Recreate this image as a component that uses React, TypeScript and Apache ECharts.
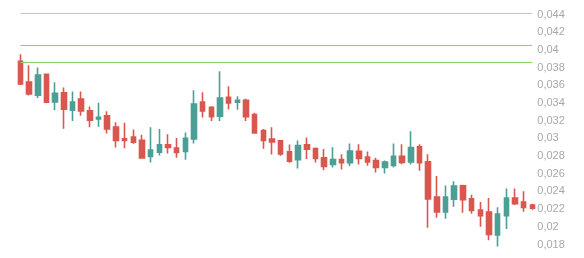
import React, { useEffect, useRef } from "react";
import * as echarts from "echarts";

const categories = ["1","2","3","4","5","6","7","8","9","10","11","12","13","14","15","16","17","18","19","20","21","22","23","24","25","26","27","28","29","30","31","32","33","34","35","36","37","38","39","40","41","42","43","44","45","46","47","48","49","50","51","52","53","54","55","56","57","58","59","60"];

const opens = [0.03861,0.03624,0.03477,0.03714,0.03401,0.03503,0.03307,0.03432,0.03299,0.03209,0.03243,0.03115,0.02983,0.03002,0.02968,0.02784,0.02833,0.02915,0.02878,0.02841,0.02983,0.03398,0.03341,0.03240,0.03454,0.03398,0.03420,0.03259,0.03078,0.02980,0.02960,0.02836,0.02746,0.02915,0.02874,0.02768,0.02694,0.02750,0.02712,0.02841,0.02776,0.02739,0.02660,0.02682,0.02787,0.02723,0.02893,0.02723,0.02324,0.02158,0.02302,0.02452,0.02305,0.02177,0.02155,0.01898,0.02113,0.02313,0.02268,0.02234];
const closes = [0.03604,0.03491,0.03703,0.03398,0.03499,0.03319,0.03398,0.03299,0.03194,0.03228,0.03096,0.02965,0.02965,0.02946,0.02768,0.02855,0.02915,0.02886,0.02829,0.02988,0.03375,0.03299,0.03232,0.03443,0.03390,0.03420,0.03232,0.03051,0.02965,0.02949,0.02813,0.02731,0.02908,0.02867,0.02762,0.02671,0.02750,0.02712,0.02844,0.02762,0.02723,0.02660,0.02720,0.02787,0.02716,0.02886,0.02712,0.02305,0.02158,0.02324,0.02449,0.02294,0.02174,0.02113,0.01903,0.02132,0.02313,0.02249,0.02208,0.02200];
const lows = [0.03593,0.03473,0.03446,0.03390,0.03307,0.03096,0.03186,0.03243,0.03115,0.03119,0.03044,0.02886,0.02878,0.02927,0.02757,0.02716,0.02795,0.02818,0.02768,0.02746,0.02931,0.03225,0.03186,0.03186,0.03315,0.03311,0.03186,0.03044,0.02870,0.02807,0.02791,0.02712,0.02649,0.02754,0.02716,0.02629,0.02660,0.02637,0.02675,0.02694,0.02678,0.02603,0.02592,0.02660,0.02697,0.02694,0.02621,0.01977,0.02090,0.02079,0.02215,0.02147,0.02136,0.01989,0.01838,0.01767,0.01963,0.02234,0.02158,0.02181];
const highs = [0.03940,0.03816,0.03790,0.03714,0.03624,0.03564,0.03519,0.03519,0.03349,0.03390,0.03296,0.03172,0.03164,0.03089,0.03028,0.03115,0.03093,0.03036,0.02994,0.03055,0.03533,0.03511,0.03352,0.03748,0.03578,0.03465,0.03435,0.03277,0.03093,0.03115,0.02968,0.02920,0.02965,0.02999,0.02886,0.02867,0.02889,0.02810,0.02931,0.02923,0.02841,0.02768,0.02739,0.02931,0.02923,0.03070,0.02923,0.02810,0.02562,0.02456,0.02505,0.02463,0.02350,0.02268,0.02313,0.02211,0.02422,0.02422,0.02392,0.02249];

const levels = [0.044, 0.04038, 0.03846];
const levelColors = ["#e3d05a", "#8ad171", "#8ad171"];

const UP = "#4c9f95";
const DOWN = "#d9574e";

export default function App() {
  const ref = useRef<HTMLDivElement>(null);
  useEffect(() => {
    if (!ref.current) return;
    const chart = echarts.init(ref.current, undefined, { renderer: "svg" });
    const data = categories.map((_, i) => [opens[i], closes[i], lows[i], highs[i]]);
    const first = categories[0];
    const last = categories[categories.length - 1];
    const levelSeries = levels.map((lv, i) => ({
      type: "line",
      name: "level" + i,
      data: [
        [first, lv],
        [last, lv],
      ],
      symbol: "none",
      showSymbol: false,
      clip: false,
      silent: true,
      lineStyle: { color: levelColors[i], width: 1, type: "solid", opacity: 1 },
      itemStyle: { color: levelColors[i] },
      emphasis: { disabled: true },
    }));
    chart.setOption({
      animation: false,
      grid: { left: 20.5, right: 51.7, top: 13.5, bottom: 14.5 },
      xAxis: {
        type: "category",
        data: categories,
        boundaryGap: false,
        show: false,
      },
      yAxis: {
        type: "value",
        position: "right",
        min: 0.018,
        max: 0.044,
        interval: 0.002,
        axisLine: { show: false },
        axisTick: { show: false },
        splitLine: { show: false },
        axisLabel: {
          margin: 5,
          color: "#a8a8a8",
          fontSize: 11,
          fontFamily: "Arial, 'Liberation Sans', sans-serif",
          formatter: (v: number) => String(parseFloat(v.toFixed(4))).replace(".", ","),
        },
      },
      series: [
        ...levelSeries,
        {
          type: "candlestick",
          data,
          clip: false,
          barWidth: 5,
          itemStyle: {
            color: UP,
            borderColor: UP,
            color0: DOWN,
            borderColor0: DOWN,
            borderWidth: 1.6,
          },
        },
      ],
    });
    return () => chart.dispose();
  }, []);
  return (
    <div
      ref={ref}
      style={{ position: "fixed", left: 0, top: 0, width: 584, height: 258 }}
    />
  );
}
